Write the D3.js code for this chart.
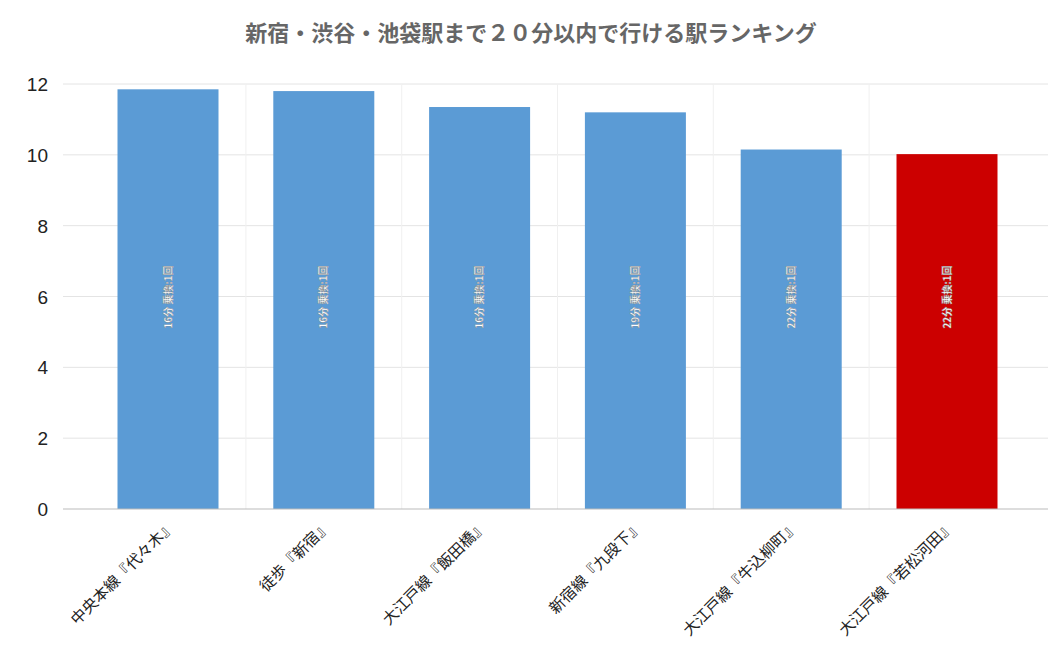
<!DOCTYPE html>
<html><head><meta charset="utf-8">
<script src="https://cdn.jsdelivr.net/npm/d3@7"></script>
<style>body{margin:0;background:#fff;font-family:"Noto Sans CJK JP","Noto Sans",sans-serif;}</style>
</head><body><svg id="c" width="1048" height="647"></svg>
<script>
// Chart data
var stations = ['中央本線『代々木』', '徒歩『新宿』', '大江戸線『飯田橋』', '新宿線『九段下』', '大江戸線『牛込柳町』', '大江戸線『若松河田』'];
var scores = [11.85, 11.8, 11.35, 11.2, 10.15, 10.02];
var notes = ['16分 乗換:1回', '16分 乗換:1回', '16分 乗換:1回', '19分 乗換:1回', '22分 乗換:1回', '22分 乗換:1回'];
var yTicks = [0, 2, 4, 6, 8, 10, 12];

var svg = d3.select('#c');
var m = {left: 63, right: 1048, top: 84, bottom: 509};
var barW = 101;

// Bar centres
var x = d3.scalePoint().domain(stations).range([168, 947]);
var step = x.step();
var y = d3.scaleLinear().domain([0, 12]).range([m.bottom, m.top]);

// Title
svg.append('text').attr('x', 531).attr('y', 41).attr('text-anchor', 'middle')
  .attr('font-size', 22).attr('font-weight', 'bold').attr('fill', '#666')
  .text('新宿・渋谷・池袋駅まで２０分以内で行ける駅ランキング');

// Grid
svg.append('g').selectAll('line').data(yTicks.slice(1)).join('line')
  .attr('x1', m.left).attr('x2', m.right)
  .attr('y1', function(d) { return y(d); }).attr('y2', function(d) { return y(d); })
  .attr('stroke', '#e4e4e4');
svg.append('g').selectAll('line').data(stations.slice(1)).join('line')
  .attr('x1', function(d) { return x(d) - step / 2; })
  .attr('x2', function(d) { return x(d) - step / 2; })
  .attr('y1', m.top).attr('y2', m.bottom).attr('stroke', '#f0f0f0');

// Y axis labels
svg.append('g').selectAll('text').data(yTicks).join('text')
  .attr('x', 48).attr('y', function(d) { return y(d) + 7; })
  .attr('text-anchor', 'end').attr('font-size', 19).attr('fill', '#222')
  .attr('font-family', 'Liberation Sans, sans-serif')
  .text(function(d) { return d; });

// Bars
svg.append('g').selectAll('rect').data(scores).join('rect')
  .attr('x', function(d, i) { return x(stations[i]) - barW / 2; })
  .attr('width', barW)
  .attr('y', function(d) { return y(d); })
  .attr('height', function(d) { return y(0) - y(d); })
  .attr('fill', function(d, i) { return i === stations.length - 1 ? '#cc0000' : '#5b9bd5'; });

// Rotated notes in bars
svg.append('g').selectAll('text').data(notes).join('text')
  .attr('transform', function(d, i) {
    return 'translate(' + x(stations[i]) + ',297) rotate(-90)';
  })
  .attr('text-anchor', 'middle').attr('dy', '0.35em')
  .attr('font-size', 10).attr('font-weight', 'bold').attr('fill', '#fff')
  .attr('stroke', '#888').attr('stroke-width', 0.4)
  .text(function(d) { return d; });

// Baseline
svg.append('line').attr('x1', m.left).attr('x2', m.right)
  .attr('y1', m.bottom).attr('y2', m.bottom).attr('stroke', '#bbb');

// X labels
svg.append('g').selectAll('text').data(stations).join('text')
  .attr('transform', function(d) {
    return 'translate(' + (x(d) + 8) + ',527) rotate(-45)';
  })
  .attr('text-anchor', 'end').attr('font-size', 15.5).attr('fill', '#222')
  .text(function(d) { return d; });
</script></body></html>
